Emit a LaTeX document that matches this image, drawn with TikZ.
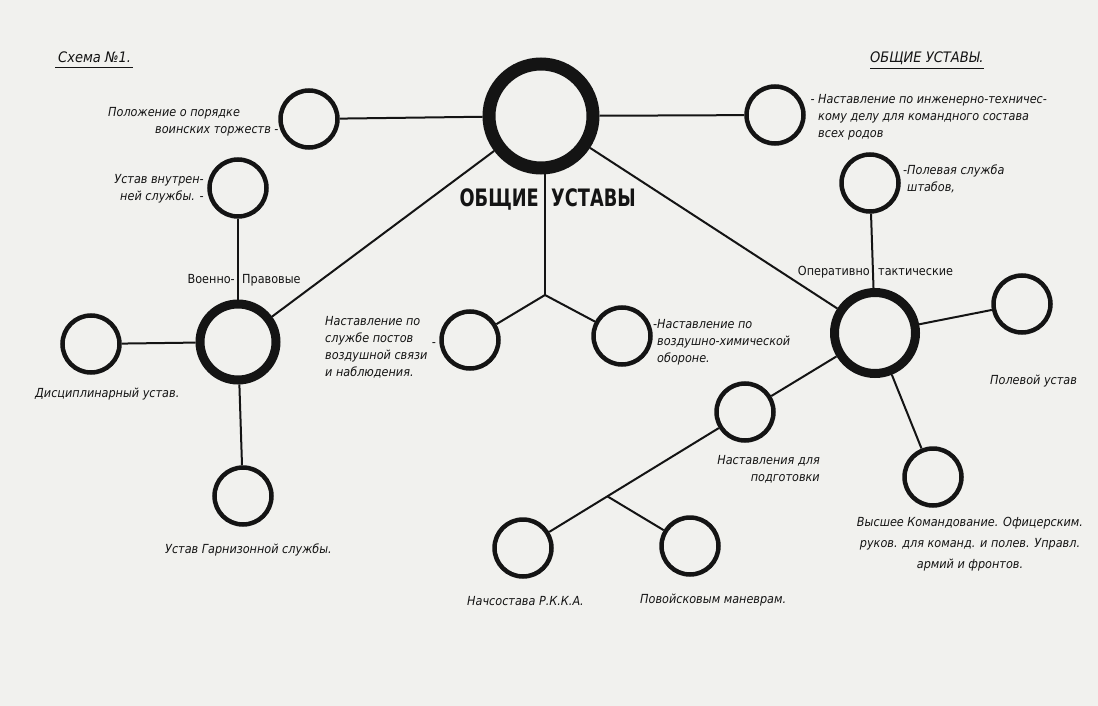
\documentclass[tikz,border=0pt]{standalone}
\usepackage{fontspec}
\usetikzlibrary{calc}
\setmainfont{DejaVu Sans}[FakeStretch=0.9]
\newfontfamily\titlefont{DejaVu Sans}[FakeStretch=0.74]
\definecolor{paper}{RGB}{241,241,238}
\definecolor{ink}{RGB}{20,20,20}
\begin{document}
\begin{tikzpicture}[x=1pt,y=-1pt,
  small/.style={circle,draw=ink,line width=4.5pt,minimum size=57pt,inner sep=0pt},
  hub/.style={circle,draw=ink,line width=9pt,minimum size=76pt,inner sep=0pt},
  mainhub/.style={circle,draw=ink,line width=13pt,minimum size=104pt,inner sep=0pt},
  link/.style={draw=ink,line width=2pt},
  lab/.style={font=\fontsize{12.5}{17}\selectfont\itshape,inner sep=0pt,align=left,text=ink},
  biglab/.style={font=\fontsize{14.5}{17}\selectfont\itshape,inner sep=0pt,text=ink},
  grp/.style={font=\fontsize{12.5}{14}\selectfont,inner sep=0pt,text=ink},
  ttl/.style={font=\fontsize{24}{28}\titlefont\bfseries,inner sep=0pt,text=ink},
  uline/.style={draw=ink,line width=1.2pt}]
\fill[paper] (0,0) rectangle (1098,706);
\useasboundingbox (0,0) rectangle (1098,706);

% circles
\node[mainhub] (c) at (541,116) {};
\node[small] (pol) at (309,119) {};
\node[small] (inzh) at (775,115) {};
\node[small] (vn) at (238,188) {};
\node[hub] (vp) at (238,342) {};
\node[small] (disc) at (91,344) {};
\node[small] (garn) at (243,496) {};
\node[small] (nb) at (470,340) {};
\node[small] (nh) at (622,336) {};
\node[hub,minimum size=81pt] (op) at (875,333) {};
\node[small] (psh) at (870,183) {};
\node[small] (pu) at (1022,304) {};
\node[small] (vys) at (933,477) {};
\node[small] (nap) at (745,412) {};
\node[small] (nach) at (523,548) {};
\node[small] (povo) at (690,546) {};
\coordinate (br) at (545,295);

% connectors
\draw[link] (c) -- (pol);
\draw[link] (c) -- (inzh);
\draw[link] (c) -- (vp);
\draw[link] (c) -- (op);
\draw[link] (br |- c.south) -- (br);
\draw[link] (br) -- (nb);
\draw[link] (br) -- (nh);
\draw[link] (vp) -- (vn);
\draw[link] (vp) -- (disc);
\draw[link] (vp) -- (garn);
\draw[link] (op) -- (psh);
\draw[link] (op) -- (pu);
\draw[link] (op) -- (vys);
\draw[link] (op) -- (nap);
\draw[link] (nap) -- (nach);
\coordinate (nbr) at ($(nap)!0.62!(nach)$);
\draw[link] (nbr) -- (povo);

% titles
\node[biglab,anchor=west] (tschema) at (58,57) {Схема №1.};
\draw[uline] ([xshift=-3pt,yshift=-5pt]tschema.south west) -- ([xshift=2pt,yshift=-5pt]tschema.south east);
\node[biglab,anchor=west] (tobsh) at (870,58) {ОБЩИЕ УСТАВЫ.};
\draw[uline] ([yshift=-4pt]tobsh.south west) -- ([yshift=-4pt]tobsh.south east);
\node[ttl,anchor=base east] (tmain1) at (539,206) {ОБЩИЕ};
\node[ttl,anchor=base west] (tmain2) at (551,206) {УСТАВЫ};

% group labels
\node[grp,anchor=base east] (tvp1) at (235,283) {Военно-};
\node[grp,anchor=base west] (tvp2) at (242,283) {Правовые};
\node[grp,anchor=base east] (top1) at (870,275) {Оперативно};
\node[grp,anchor=base west] (top2) at (878,275) {тактические};

% item labels
\node[lab,anchor=west] (tpol1) at (108,113) {Положение о порядке};
\node[lab,anchor=west] (tpol2) at (155,131) {воинских торжеств -};
\node[lab,anchor=north west] (tinzh) at (818,94) {\llap{- }Наставление по инженерно-техничес-\\кому делу для командного состава\\всех родов};
\node[lab,anchor=east,align=right] (tvn) at (204,189) {Устав внутрен-\\ней службы. -};
\node[lab,anchor=north west] (tpsh) at (907,165) {\llap{-}Полевая служба\\штабов,};
\node[lab,anchor=north west] (tnb) at (325,316) {Наставление по\\службе постов\\воздушной связи\\и наблюдения.};
\node[lab,anchor=center] (tnbd) at (434,345) {-};
\node[lab,anchor=north west] (tnh) at (657,319) {\llap{-}Наставление по\\воздушно-химической\\обороне.};
\node[lab,anchor=west] (tdisc) at (35,394) {Дисциплинарный устав.};
\node[lab,anchor=west] (tpu) at (990,381) {Полевой устав};
\node[lab,anchor=north east,align=right] (tnap) at (820,455) {Наставления для\\подготовки};
\node[lab,anchor=north,align=center,font=\fontsize{12.5}{21}\selectfont\itshape] (tvys) at (970,517) {Высшее Командование. Офицерским.\\руков. для команд. и полев. Управл.\\армий и фронтов.};
\node[lab,anchor=west] (tgarn) at (165,550) {Устав Гарнизонной службы.};
\node[lab,anchor=west] (tnach) at (467,601) {Начсостава Р.К.К.А.};
\node[lab,anchor=west] (tpovo) at (640,600) {Повойсковым маневрам.};
\end{tikzpicture}
\end{document}
